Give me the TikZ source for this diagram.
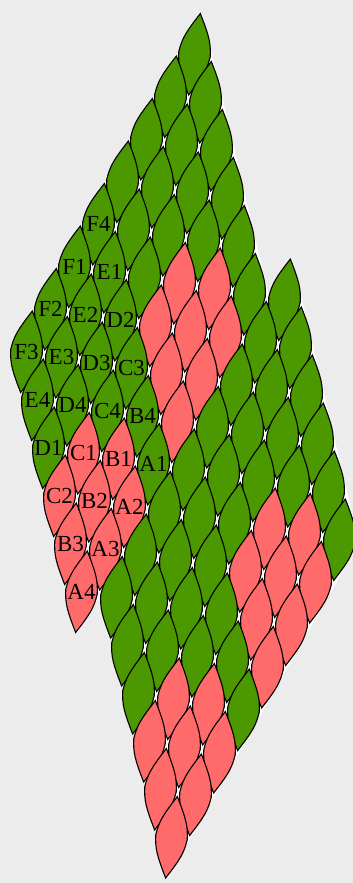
\documentclass[tikz,border=0pt]{standalone}
\usepackage{fontspec}
\setmainfont{Liberation Serif}
\definecolor{leafgreen}{RGB}{75,152,0}
\definecolor{leafred}{RGB}{255,107,107}
\definecolor{bggray}{RGB}{236,236,236}
\tikzset{
  leafline/.style={line width=1.1pt, draw=black, line join=miter},
  leaflabel/.style={font=\fontsize{23}{23}\selectfont, inner sep=0pt, text=black}
}
% lattice: T(i,j) = (203,9) + i*(-24,42.5) + j*(11,48); centre C = T + (-6.5,45.25)
\newcommand\leafsetup[2]{%
  \pgfmathsetmacro\cx{194.5-24*(#1)+11*(#2)}%
  \pgfmathsetmacro\cy{54.25+42.5*(#1)+48*(#2)}%
}
% convex leaf around its centre: top, right, bottom, left
\newcommand\leafpath{(6.5,-45.25)
  .. controls +(9.95,25.508) and +(0.6,-15.292) .. ++(11,48)
  .. controls +(-3.716,14.718) and +(16.684,-21.407) .. ++(-24,42.5)
  .. controls +(-9.95,-25.508) and +(-0.6,15.292) .. ++(-11,-48)
  .. controls +(3.716,-14.718) and +(-16.684,21.407) .. ++(24,-42.5) -- cycle}
\newcommand\leafdraw[2]{%
  \leafsetup{#1}{#2}%
  \pgfmathtruncatemacro\ii{mod(#1+(#2>5)+8,4)}%
  \pgfmathtruncatemacro\jj{#2-6*(#2>5)}%
  \pgfmathtruncatemacro\isred{(((\jj>=4)&&(\ii>=1))||((\jj==3)&&(\ii>=2)))}%
  \ifnum\isred=1 \def\leafcol{leafred}\else\def\leafcol{leafgreen}\fi
  \begin{scope}[shift={(\cx,\cy)}, scale=0.9]
    \filldraw[fill=\leafcol, leafline] \leafpath;
  \end{scope}
}
\newcommand\leaflab[3]{%
  \leafsetup{#1}{#2}%
  \node[leaflabel] (lab#3) at (\cx,\cy) {#3};
}
\begin{document}
\begin{tikzpicture}[x=1pt,y=-1pt]
  \useasboundingbox (0,0) rectangle (353,883);
  \fill[bggray] (0,0) rectangle (353,883);
  \clip (0,0) rectangle (353,883);
  % white ground under the tiling (shows through the small gaps)
  \fill[white] (202.35,13.53) -- (269,297) -- (292.35,259) -- (359,542.5)
    -- (167.65,877.98) -- (101,594.5) -- (77.65,632.48) -- (12.75,349.28) -- cycle;
  % tiles, drawn from top to bottom
  \foreach \s in {0,...,17} {
    \foreach \i in {-1,...,7} {
      \pgfmathtruncatemacro\j{\s-\i}
      \pgfmathtruncatemacro\ok{(((\i>=0)&&(\i<=7)&&(\j>=0)&&(\j<=5))||((\i>=-1)&&(\i<=6)&&(\j>=6)&&(\j<=11)))}
      \ifnum\ok=1 \leafdraw{\i}{\j}\fi
    }
  }
  % labels
  \foreach \i/\j/\t in {4/5/A1,5/5/A2,6/5/A3,7/5/A4,
                         4/4/B4,5/4/B1,6/4/B2,7/4/B3,
                         4/3/C3,5/3/C4,6/3/C1,7/3/C2,
                         4/2/D2,5/2/D3,6/2/D4,7/2/D1,
                         4/1/E1,5/1/E2,6/1/E3,7/1/E4,
                         4/0/F4,5/0/F1,6/0/F2,7/0/F3} { \leaflab{\i}{\j}{\t} }
\end{tikzpicture}
\end{document}
